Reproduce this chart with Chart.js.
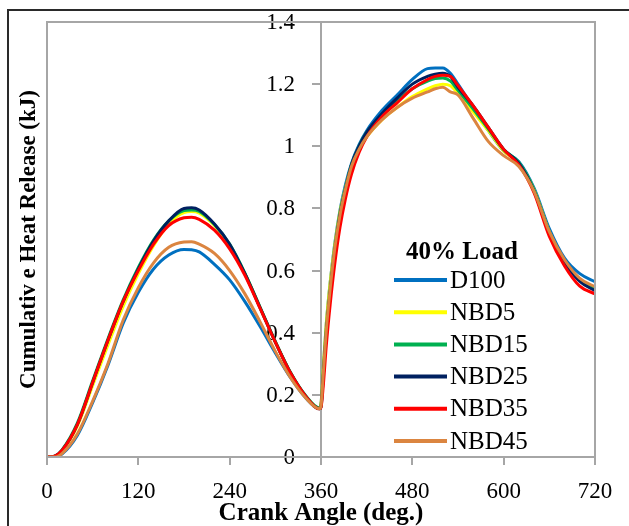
<!DOCTYPE html>
<html>
<head>
<meta charset="utf-8">
<script src="https://cdn.jsdelivr.net/npm/chart.js@4"></script>
<style>
  html, body { margin: 0; padding: 0; background: #fff; }
  #wrap { width: 629px; height: 526px; }
</style>
</head>
<body>
<div id="wrap"><canvas id="heatChart" width="629" height="526"></canvas></div>
<script>
// ===============================
// DATA
// ===============================
const angle = [0, 10, 20, 40, 60, 80, 100, 120, 140, 160, 180, 190, 200, 220, 240, 260, 280, 300, 320, 340, 358,
  360, 363, 367, 372, 378, 385, 392, 400, 410, 420, 440, 460, 480, 500, 510, 520, 530, 540, 560, 580, 600, 620, 640, 660, 680, 700, 720];

const d100 = [0, 0, 0.01, 0.07, 0.175, 0.295, 0.43, 0.53, 0.605, 0.65, 0.668, 0.667, 0.66, 0.62, 0.57, 0.5, 0.42, 0.335, 0.255, 0.19, 0.155,
  0.17, 0.29, 0.43, 0.56, 0.685, 0.795, 0.875, 0.945, 1.005, 1.05, 1.115, 1.165, 1.215, 1.25, 1.252, 1.252, 1.235, 1.2, 1.125, 1.05, 0.985, 0.95, 0.865, 0.735, 0.64, 0.59, 0.564];

const nbd5 = [0, 0.002, 0.02, 0.1, 0.23, 0.36, 0.485, 0.59, 0.68, 0.75, 0.787, 0.79, 0.785, 0.745, 0.68, 0.59, 0.48, 0.37, 0.27, 0.195, 0.157,
  0.17, 0.29, 0.43, 0.56, 0.68, 0.79, 0.865, 0.935, 0.99, 1.03, 1.085, 1.125, 1.16, 1.185, 1.195, 1.2, 1.195, 1.17, 1.11, 1.05, 0.985, 0.945, 0.86, 0.725, 0.63, 0.57, 0.545];

const nbd15 = [0, 0.003, 0.024, 0.11, 0.245, 0.38, 0.505, 0.61, 0.698, 0.76, 0.793, 0.795, 0.79, 0.748, 0.685, 0.592, 0.482, 0.372, 0.272, 0.197, 0.158,
  0.165, 0.27, 0.41, 0.54, 0.67, 0.785, 0.865, 0.94, 1.0, 1.045, 1.1, 1.145, 1.185, 1.21, 1.218, 1.22, 1.21, 1.18, 1.12, 1.055, 0.99, 0.948, 0.86, 0.725, 0.63, 0.57, 0.54];

const nbd25 = [0, 0.003, 0.022, 0.105, 0.24, 0.375, 0.5, 0.605, 0.695, 0.76, 0.8, 0.802, 0.795, 0.75, 0.685, 0.59, 0.48, 0.37, 0.27, 0.195, 0.155,
  0.16, 0.26, 0.4, 0.53, 0.66, 0.78, 0.86, 0.94, 1.0, 1.045, 1.105, 1.155, 1.2, 1.225, 1.232, 1.235, 1.225, 1.19, 1.13, 1.06, 0.99, 0.945, 0.855, 0.72, 0.625, 0.565, 0.535];

const nbd35 = [0, 0.003, 0.022, 0.105, 0.24, 0.375, 0.5, 0.6, 0.685, 0.745, 0.77, 0.772, 0.765, 0.73, 0.67, 0.585, 0.478, 0.37, 0.27, 0.195, 0.155,
  0.16, 0.23, 0.36, 0.49, 0.62, 0.74, 0.83, 0.91, 0.98, 1.03, 1.095, 1.14, 1.185, 1.215, 1.225, 1.229, 1.225, 1.195, 1.13, 1.06, 0.99, 0.94, 0.85, 0.71, 0.615, 0.55, 0.525];

const nbd45 = [0, 0, 0.012, 0.075, 0.18, 0.3, 0.44, 0.545, 0.625, 0.675, 0.692, 0.693, 0.685, 0.655, 0.6, 0.525, 0.435, 0.34, 0.255, 0.19, 0.155,
  0.165, 0.27, 0.41, 0.54, 0.67, 0.78, 0.86, 0.935, 0.99, 1.03, 1.085, 1.125, 1.155, 1.175, 1.185, 1.19, 1.175, 1.165, 1.09, 1.015, 0.97, 0.935, 0.855, 0.725, 0.635, 0.575, 0.548];

const seriesNames = ["D100", "NBD5", "NBD15", "NBD25", "NBD35", "NBD45"];
const seriesColors = ["#0070C0", "#FFFF00", "#00B050", "#002060", "#FF0000", "#DB8540"];
const seriesValues = [d100, nbd5, nbd15, nbd25, nbd35, nbd45];

const xTicks = [0, 120, 240, 360, 480, 600, 720];
const yTicks = [0, 0.2, 0.4, 0.6, 0.8, 1, 1.2, 1.4];
const yTickLabels = ["0", "0.2", "0.4", "0.6", "0.8", "1", "1.2", "1.4"];

const legendTitle = "40% Load";
const xTitle = "Crank Angle (deg.)";
const yTitle = "Cumulativ e Heat Release (kJ)";

// ===============================
// HELPERS / PLUGINS
// ===============================
const SERIF = "'Liberation Serif', 'Times New Roman', serif";

const framePlugin = {
  id: "frame",
  beforeDraw(chart) {
    const ctx = chart.ctx;
    ctx.save();
    ctx.fillStyle = "#fff";
    ctx.fillRect(0, 0, chart.width, chart.height);
    // outer picture frame (top + left)
    ctx.strokeStyle = "#2a2a2a";
    ctx.lineWidth = 2;
    ctx.beginPath();
    ctx.moveTo(8, chart.height);
    ctx.lineTo(8, 10);
    ctx.lineTo(chart.width, 10);
    ctx.stroke();
    ctx.restore();
  },
  beforeDatasetsDraw(chart) {
    // labels of the centred y axis, left of its tick marks
    const ctx = chart.ctx;
    const ys = chart.scales.y;
    const axisX = chart.scales.x.getPixelForValue(360);
    ctx.save();
    ctx.fillStyle = "#000";
    ctx.font = "23px " + SERIF;
    ctx.textAlign = "right";
    ctx.textBaseline = "middle";
    yTicks.forEach((v, i) => {
      ctx.fillText(yTickLabels[i], axisX - 26, ys.getPixelForValue(v) + 1);
    });
    ctx.restore();
  },
  afterDraw(chart) {
    const ctx = chart.ctx;
    const a = chart.chartArea;
    ctx.save();
    // plot box
    ctx.strokeStyle = "#a6a6a6";
    ctx.lineWidth = 2;
    ctx.strokeRect(a.left, a.top, a.right - a.left, a.bottom - a.top);

    // y title, rotated at the far left
    ctx.fillStyle = "#000";
    ctx.font = "bold 23px " + SERIF;
    ctx.textAlign = "center";
    ctx.textBaseline = "middle";
    ctx.translate(29, (a.top + a.bottom) / 2);
    ctx.rotate(-Math.PI / 2);
    ctx.fillText(yTitle, 0, 0);
    ctx.restore();

    // legend inside the plot
    ctx.save();
    ctx.fillStyle = "#000";
    ctx.font = "bold 25px " + SERIF;
    ctx.textAlign = "center";
    ctx.textBaseline = "middle";
    ctx.fillText(legendTitle, 462, 253);
    ctx.font = "25px " + SERIF;
    ctx.textAlign = "left";
    seriesNames.forEach((name, i) => {
      const y = 280 + i * 32.2;
      ctx.strokeStyle = seriesColors[i];
      ctx.lineWidth = 4;
      ctx.beginPath();
      ctx.moveTo(394, y);
      ctx.lineTo(447, y);
      ctx.stroke();
      ctx.fillText(name, 450, y + 1);
    });
    ctx.restore();
  }
};

// ===============================
// CHART
// ===============================
const datasets = seriesNames.map((name, i) => ({
  label: name,
  data: angle.map((a, j) => ({ x: a, y: seriesValues[i][j] })),
  borderColor: seriesColors[i],
  backgroundColor: seriesColors[i],
  borderWidth: 3,
  pointRadius: 0,
  tension: 0.3,
  cubicInterpolationMode: "monotone",
  order: seriesNames.length - i
}));

new Chart(document.getElementById("heatChart"), {
  type: "line",
  data: { datasets: datasets },
  options: {
    responsive: false,
    animation: false,
    events: [],
    layout: { padding: { left: 47, right: 34, top: 22, bottom: 0 } },
    plugins: {
      legend: { display: false },
      tooltip: { enabled: false }
    },
    scales: {
      x: {
        type: "linear",
        min: 0,
        max: 720,
        afterBuildTicks: s => { s.ticks = xTicks.map(v => ({ value: v })); },
        afterFit: s => { s.height = 69; },
        ticks: {
          color: "#000",
          font: { family: SERIF, size: 23 },
          padding: 13,
          maxRotation: 0
        },
        grid: {
          drawOnChartArea: false,
          drawTicks: true,
          tickLength: 8,
          color: "#a6a6a6",
          lineWidth: 2
        },
        border: { color: "#a6a6a6", width: 2 },
        title: {
          display: true,
          text: xTitle,
          color: "#000",
          font: { family: SERIF, size: 25, weight: "bold", lineHeight: 1 },
          padding: 0
        }
      },
      y: {
        type: "linear",
        position: { x: 360 },
        min: 0,
        max: 1.4,
        afterBuildTicks: s => { s.ticks = yTicks.map(v => ({ value: v })); },
        ticks: { display: false },
        grid: {
          drawOnChartArea: false,
          drawTicks: true,
          tickLength: 8,
          color: "#a6a6a6",
          lineWidth: 2
        },
        border: { color: "#a6a6a6", width: 2 }
      }
    }
  },
  plugins: [framePlugin]
});
</script>
</body>
</html>
